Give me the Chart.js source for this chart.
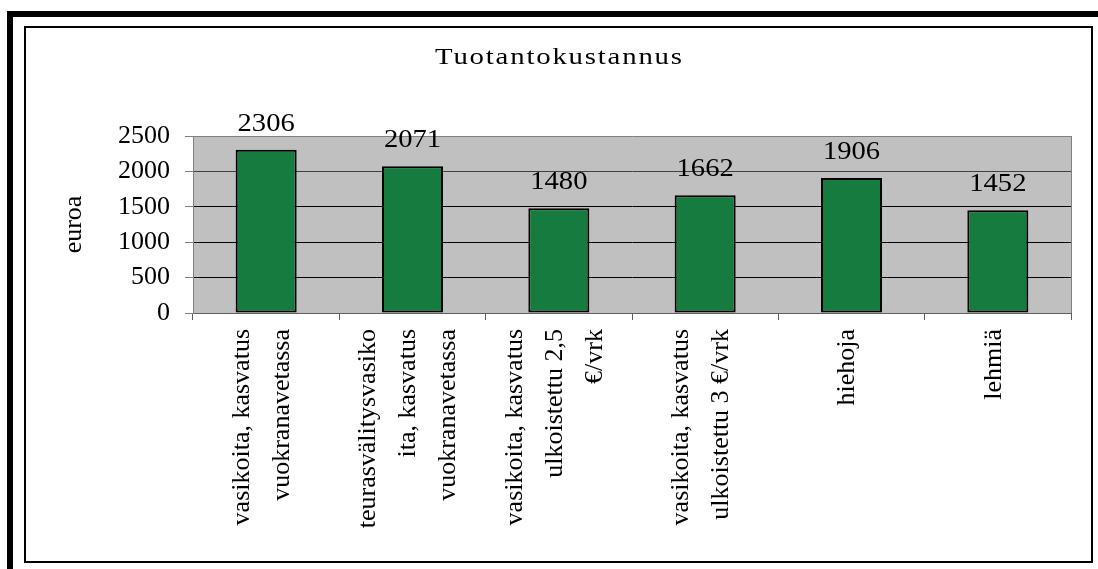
<!DOCTYPE html>
<html>
<head>
<meta charset="utf-8">
<script src="https://cdn.jsdelivr.net/npm/chart.js@4"></script>
<style>
html, body { margin: 0; padding: 0; background: #fff; }
</style>
</head>
<body>
<canvas id="costChart" width="1098" height="569"></canvas>
<script>
// Tuotantokustannus - bar chart, euros per category

const chartTitle = 'Tuotantokustannus';
const axisTitle = 'euroa';
const categories = [
    ['vasikoita, kasvatus', 'vuokranavetassa'],
    ['teurasvälitysvasiko', 'ita, kasvatus', 'vuokranavetassa'],
    ['vasikoita, kasvatus', 'ulkoistettu 2,5', '€/vrk'],
    ['vasikoita, kasvatus', 'ulkoistettu 3 €/vrk'],
    ['hiehoja'],
    ['lehmiä']
];
const costs = [2306, 2071, 1480, 1662, 1906, 1452];
const yTicks = [0, 500, 1000, 1500, 2000, 2500];

const serif = "'Liberation Serif', 'Times New Roman', serif";

// white page, black frame lines and the grey plot background
const framePlugin = {
    id: 'frame',
    beforeDraw(chart) {
        const ctx = chart.ctx;
        const a = chart.chartArea;
        ctx.save();
        ctx.fillStyle = '#fff';
        ctx.fillRect(0, 0, chart.width, chart.height);
        ctx.fillStyle = '#000';
        ctx.fillRect(7, 11, chart.width - 7, 6);
        ctx.fillRect(7, 11, 6, chart.height - 11);
        ctx.strokeStyle = '#000';
        ctx.lineWidth = 2;
        ctx.strokeRect(25, 27, 1067, 535);
        ctx.fillStyle = '#c0c0c0';
        ctx.fillRect(a.left, a.top, a.right - a.left, a.bottom - a.top);
        ctx.restore();
    },
    beforeDatasetsDraw(chart) {
        const ctx = chart.ctx;
        const a = chart.chartArea;
        ctx.save();
        ctx.strokeStyle = '#808080';
        ctx.lineWidth = 1;
        ctx.beginPath();
        ctx.moveTo(a.right + 0.5, a.top);
        ctx.lineTo(a.right + 0.5, a.bottom);
        ctx.stroke();
        ctx.restore();
    }
};

// value labels above bars, rotated category labels, chart title
const textPlugin = {
    id: 'texts',
    afterDatasetsDraw(chart) {
        const ctx = chart.ctx;
        const meta = chart.getDatasetMeta(0);
        ctx.save();
        ctx.font = '26px ' + serif;
        ctx.fillStyle = '#000';
        ctx.textAlign = 'center';
        ctx.textBaseline = 'alphabetic';
        meta.data.forEach((bar, i) => {
            ctx.save();
            ctx.translate(bar.x, bar.y - 19);
            ctx.scale(1.1, 1);
            ctx.fillText(String(costs[i]), 0, 0);
            ctx.restore();
        });
        ctx.restore();
    },
    afterDraw(chart) {
        const ctx = chart.ctx;
        const xScale = chart.scales.x;
        const lineGap = 40;
        ctx.save();
        ctx.font = '26px ' + serif;
        ctx.fillStyle = '#000';
        ctx.textAlign = 'right';
        ctx.textBaseline = 'middle';
        categories.forEach((lines, i) => {
            const x = xScale.getPixelForValue(i) - 4;
            ctx.save();
            ctx.translate(x, xScale.top + 16);
            ctx.rotate(-Math.PI / 2);
            lines.forEach((line, j) => {
                ctx.fillText(line, 0, (j - (lines.length - 1) / 2) * lineGap);
            });
            ctx.restore();
        });

        // title: Excel stretched it sideways, so scale x a bit
        ctx.save();
        ctx.translate(558.5, 64);
        ctx.scale(1.2, 1);
        ctx.font = '24px ' + serif;
        ctx.letterSpacing = '1.5px';
        ctx.textAlign = 'center';
        ctx.textBaseline = 'alphabetic';
        ctx.fillText(chartTitle, 0.75, 0);
        ctx.restore();
        ctx.restore();
    }
};

new Chart(document.getElementById('costChart'), {
    type: 'bar',
    data: {
        labels: categories,
        datasets: [{
            data: costs,
            backgroundColor: '#157b3e',
            borderColor: '#000',
            borderWidth: 2,
            borderSkipped: false,
            categoryPercentage: 1,
            barPercentage: 0.417
        }]
    },
    options: {
        responsive: false,
        animation: false,
        layout: { padding: { top: 136, right: 27, left: 0, bottom: 0 } },
        plugins: {
            legend: { display: false },
            tooltip: { enabled: false },
            title: { display: false }
        },
        scales: {
            x: {
                afterFit(scale) { scale.height = 256; },
                ticks: { display: false },
                grid: {
                    offset: true,
                    drawOnChartArea: false,
                    drawTicks: true,
                    tickLength: 7,
                    tickColor: '#606060'
                },
                border: { color: '#606060', width: 1 }
            },
            y: {
                min: 0,
                max: 2500,
                afterFit(scale) { scale.width = 193; },
                afterBuildTicks(scale) { scale.ticks = yTicks.map(v => ({ value: v })); },
                ticks: {
                    color: '#000',
                    padding: 15,
                    font: { family: serif, size: 26 },
                    callback: value => String(value)
                },
                grid: {
                    color: ctx => (ctx.tick && ctx.tick.value === 2500 ? '#808080' : (ctx.tick && ctx.tick.value === 2000 ? '#404040' : '#000')),
                    tickColor: '#808080',
                    tickLength: 8,
                    lineWidth: 1
                },
                border: { color: '#808080', width: 1 },
                title: {
                    display: true,
                    text: axisTitle,
                    color: '#000',
                    font: { family: serif, size: 26 },
                    padding: { top: 59, bottom: 0 }
                }
            }
        }
    },
    plugins: [framePlugin, textPlugin]
});
</script>
</body>
</html>
